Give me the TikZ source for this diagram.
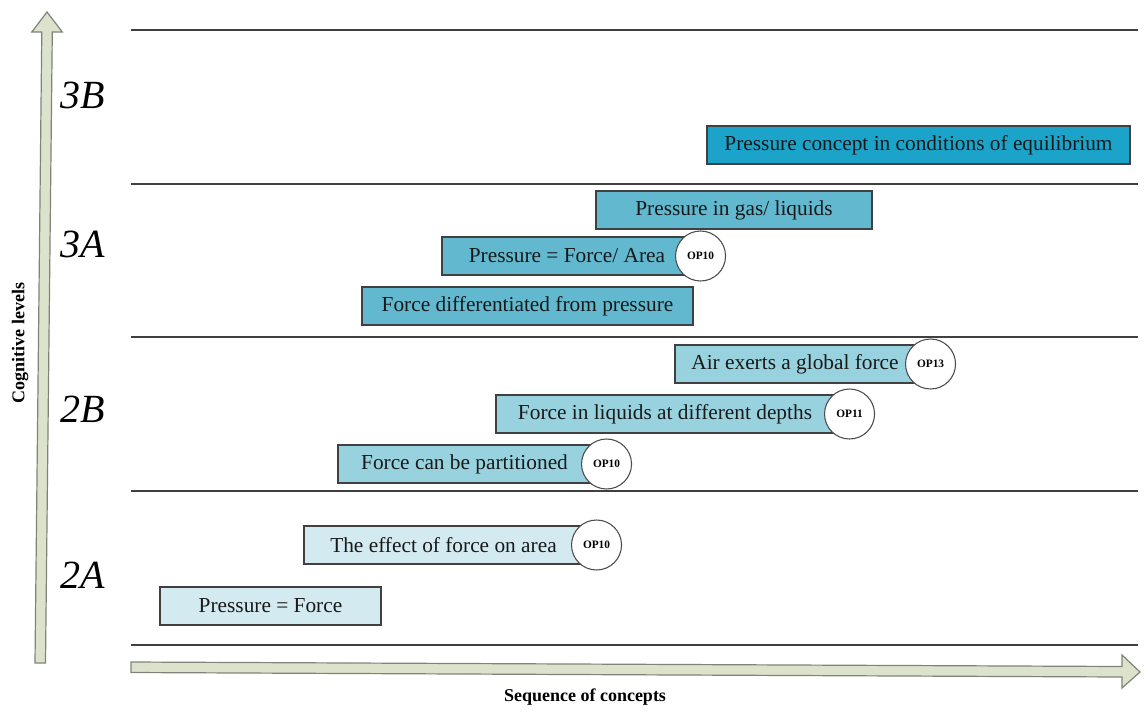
\documentclass[tikz,border=0pt]{standalone}
\usepackage{fontspec}
\setmainfont{Liberation Serif}
\usetikzlibrary{positioning}

\definecolor{axisfill}{HTML}{DDE2CC}
\definecolor{axisline}{HTML}{7F8477}
\definecolor{lvlA2}{HTML}{D3EAF0}
\definecolor{lvlB2}{HTML}{98D2DF}
\definecolor{lvlA3}{HTML}{62B8CF}
\definecolor{lvlB3}{HTML}{1BA3C9}

\begin{document}
\begin{tikzpicture}[
    x=0.75pt, y=-0.75pt,
    concept/.style={draw=black!75, line width=0.8pt, minimum height=28.5pt, inner sep=0pt,
      font=\fontsize{16}{18}\selectfont, text=black!90},
    op/.style={circle, draw=black!70, fill=white, line width=0.8pt, minimum size=37.5pt,
      inner sep=0pt, font=\fontsize{8.5}{9}\selectfont\bfseries},
    level/.style={anchor=west, font=\fontsize{30}{34}\selectfont\itshape},
    divider/.style={draw=black!75, line width=0.9pt},
    axis/.style={fill=axisfill, draw=axisline, line width=0.9pt}
  ]
  \useasboundingbox (0,0) rectangle (1146,711);

  % level dividers
  \foreach \y in {30,184,337,491,645}
    \draw[divider] (131,\y) -- (1138,\y);

  % axes as block arrows
  \filldraw[axis] (35,663) -- (45.5,663) -- (52.3,32) -- (62.3,32) -- (47,12)
    -- (31.8,32) -- (41.8,32) -- cycle;
  \filldraw[axis] (131,662) -- (1122,666.5) -- (1122,655) -- (1140,672)
    -- (1122,688) -- (1122,677) -- (131,672.5) -- cycle;

  \node[rotate=90, font=\fontsize{13.5}{15}\selectfont\bfseries] (ylabel) at (20,343) {Cognitive levels};
  \node[font=\fontsize{13.5}{15}\selectfont\bfseries] (xlabel) at (585,697) {Sequence of concepts};

  % levels
  \node[level] (l3b) at (56,95) {3B};
  \node[level] (l3a) at (56,244) {3A};
  \node[level] (l2b) at (56,409) {2B};
  \node[level] (l2a) at (56,575) {2A};

  % concepts
  \node[concept, fill=lvlB3, minimum width=317.25pt] (equil) at (918.5,145) {Pressure concept in conditions of equilibrium};
  \node[concept, fill=lvlA3, minimum width=207pt] (gas) at (734,210) {Pressure in gas/ liquids};
  \node[concept, fill=lvlA3, minimum width=187.5pt] (area) at (567,256) {Pressure = Force/ Area};
  \node[concept, fill=lvlA3, minimum width=248.25pt] (diff) at (527.5,306) {Force differentiated from pressure};
  \node[concept, fill=lvlB2, minimum width=180pt] (air) at (795,364) {Air exerts a global force};
  \node[concept, fill=lvlB2, minimum width=253.5pt] (depth) at (665,414) {Force in liquids at different depths};
  \node[concept, fill=lvlB2, minimum width=189.75pt] (part) at (464.5,464) {Force can be partitioned};
  \node[concept, fill=lvlA2, minimum width=209.25pt] (effect) at (443.5,545) {The effect of force on area};
  \node[concept, fill=lvlA2, minimum width=165.75pt] (pf) at (270.5,606) {Pressure = Force};

  % operations
  \node[op] (oparea) at ([xshift=6pt]area.east) {OP10};
  \node[op] (opair) at ([xshift=11.25pt]air.east) {OP13};
  \node[op] (opdepth) at ([xshift=11.25pt]depth.east) {OP11};
  \node[op] (oppart) at ([xshift=11.25pt]part.east) {OP10};
  \node[op] (opeffect) at ([xshift=9.75pt]effect.east) {OP10};

\end{tikzpicture}
\end{document}
